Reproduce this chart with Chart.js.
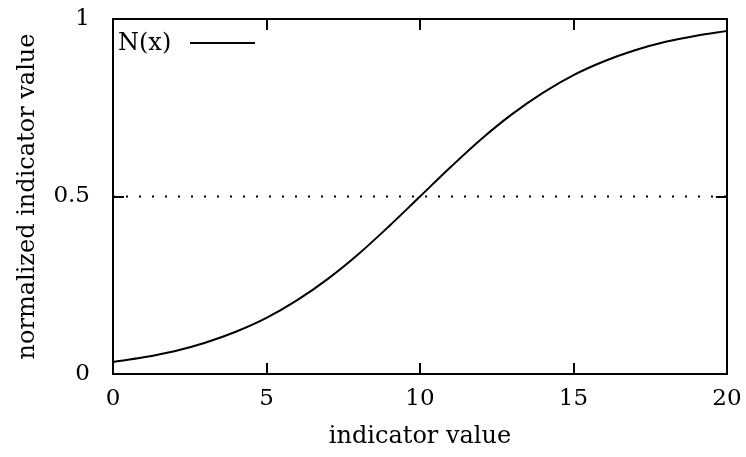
<!DOCTYPE html>
<html>
<head>
<meta charset="utf-8">
<script src="https://cdn.jsdelivr.net/npm/chart.js@4"></script>
<style>
  html, body { margin: 0; padding: 0; background: #fff; }
  #wrap { width: 746px; height: 457px; }
</style>
</head>
<body>
<div id="wrap"><canvas id="chart" width="746" height="457"></canvas></div>
<script>
// values
const xValues = [0, 1, 2, 3, 4, 5, 6, 7, 8, 9, 10, 11, 12, 13, 14, 15, 16, 17, 18, 19, 20];
const nValues = [0.034, 0.047, 0.064, 0.088, 0.119, 0.158, 0.208, 0.268, 0.338, 0.417, 0.500,
                 0.583, 0.662, 0.732, 0.792, 0.842, 0.881, 0.912, 0.936, 0.953, 0.966];
const refX = [0, 20];
const refY = [0.5, 0.5];
const xTicks = [0, 5, 10, 15, 20];
const yTicks = [0, 0.5, 1];

const FONT = "'DejaVu Serif', serif";
const TICK_LEN = 11;

// gnuplot-ish frame with inward tick marks and a line-sample legend
const framePlugin = {
  id: "frame",
  afterDatasetsDraw(chart) {
    const { ctx, chartArea: a, scales } = chart;
    ctx.save();
    ctx.strokeStyle = "#000";
    ctx.lineWidth = 2;
    ctx.strokeRect(a.left, a.top, a.right - a.left, a.bottom - a.top);
    ctx.beginPath();
    xTicks.slice(1, -1).forEach((v) => {
      const px = Math.round(scales.x.getPixelForValue(v));
      ctx.moveTo(px, a.bottom); ctx.lineTo(px, a.bottom - TICK_LEN);
      ctx.moveTo(px, a.top); ctx.lineTo(px, a.top + TICK_LEN);
    });
    yTicks.slice(1, -1).forEach((v) => {
      const py = Math.round(scales.y.getPixelForValue(v));
      ctx.moveTo(a.left, py); ctx.lineTo(a.left + TICK_LEN, py);
      ctx.moveTo(a.right, py); ctx.lineTo(a.right - TICK_LEN, py);
    });
    ctx.stroke();

    // legend
    const label = chart.data.datasets[0].label;
    ctx.font = "24px " + FONT;
    ctx.fillStyle = "#000";
    ctx.textBaseline = "middle";
    ctx.textAlign = "left";
    ctx.fillText(label, a.left + 5, a.top + 25);
    ctx.beginPath();
    ctx.moveTo(a.left + 77, a.top + 24);
    ctx.lineTo(a.left + 142, a.top + 24);
    ctx.stroke();
    ctx.restore();
  },
};

new Chart(document.getElementById("chart"), {
  type: "line",
  data: {
    datasets: [
      {
        label: "N(x)",
        data: xValues.map((x, i) => ({ x, y: nValues[i] })),
        borderColor: "#000",
        borderWidth: 2,
        pointRadius: 0,
        cubicInterpolationMode: "monotone",
        fill: false,
      },
      {
        label: "0.5",
        data: refX.map((x, i) => ({ x, y: refY[i] })),
        borderColor: "#000",
        borderWidth: 2,
        borderDash: [2, 11],
        pointRadius: 0,
        fill: false,
      },
    ],
  },
  options: {
    responsive: false,
    animation: false,
    layout: { padding: { left: 0, right: 19, top: 19, bottom: 0 } },
    plugins: { legend: { display: false }, tooltip: { enabled: false } },
    scales: {
      x: {
        type: "linear",
        min: 0,
        max: 20,
        grid: { display: false },
        border: { display: false },
        ticks: { stepSize: 5, padding: 3, color: "#000", font: { family: FONT, size: 23 } },
        title: {
          display: true,
          text: "indicator value",
          color: "#000",
          font: { family: FONT, size: 24 },
          padding: { top: 0, bottom: 6 },
        },
        afterFit: (s) => {
          s.height = 83;
          s.paddingLeft = 0;
          s.paddingRight = 0;
        },
      },
      y: {
        min: 0,
        max: 1,
        grid: { display: false },
        border: { display: false },
        ticks: {
          stepSize: 0.5,
          padding: 15,
          color: "#000",
          font: { family: FONT, size: 23 },
          callback: (v) => String(v),
        },
        title: {
          display: true,
          text: "normalized indicator value",
          color: "#000",
          font: { family: FONT, size: 24 },
          padding: { top: 13, bottom: 0 },
        },
        afterFit: (s) => {
          s.width = 113;
          s.paddingTop = 0;
          s.paddingBottom = 0;
        },
      },
    },
  },
  plugins: [framePlugin],
});
</script>
</body>
</html>
